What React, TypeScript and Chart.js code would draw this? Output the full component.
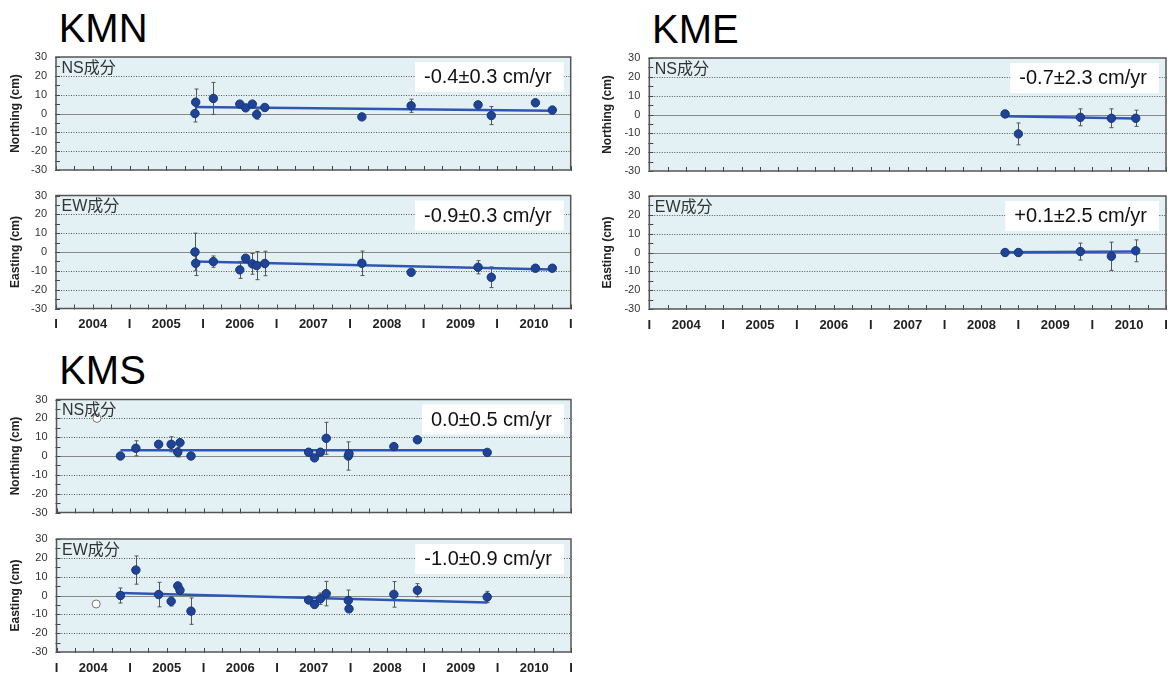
import React, { useEffect, useRef } from "react";
import { Chart, registerables } from "chart.js";
Chart.register(...registerables);

const FONT = "'Liberation Sans', Arial, Helvetica, 'Noto Sans CJK JP', sans-serif";
Chart.defaults.font.family = FONT;

// ---------- data ----------
const X_MIN = 2003.5;
const X_MAX = 2010.5;
const Y_TICKS = [-30, -20, -10, 0, 10, 20, 30];

// KMN
const KMN_T = [2005.39, 2005.40, 2005.64, 2006.0, 2006.08, 2006.17, 2006.23, 2006.34, 2007.66, 2008.33, 2009.24, 2009.42, 2010.02, 2010.25];
const KMN_NS = [0, 6, 8, 5, 3, 5, -0.5, 3.2, -1.8, 4.1, 4.6, -1.1, 5.7, 1.8];
const KMN_NS_ERR = [4.5, 7, 8.5, 0, 0, 0, 2.5, 0, 0, 3.5, 0, 4.8, 0, 2];
const KMN_EW = [0, -6, -5.1, -9.5, -3.3, -6.3, -7.2, -6.1, -6, -10.8, -8.1, -13.4, -8.6, -8.6];
const KMN_EW_ERR = [10, 6.5, 3, 4.5, 0, 5.5, 7.5, 6.5, 6.5, 0, 3.5, 5.5, 0, 0];
const KMN_NS_TREND = [3.4, 1.5];
const KMN_EW_TREND = [-5, -9.3];

// KME
const KME_T = [2008.32, 2008.50, 2009.34, 2009.76, 2010.09];
const KME_NS = [0.3, -10.3, -1.5, -2.0, -2.0];
const KME_NS_ERR = [1, 5.8, 4.5, 5, 4.3];
const KME_EW = [0, 0, 0.5, -2, 0.9];
const KME_EW_ERR = [0, 0, 4.5, 7.5, 5.8];
const KME_NS_TREND = [-0.9, -2.1];
const KME_EW_TREND = [0.1, 0.5];

// KMS
const KMS_T = [2004.37, 2004.58, 2004.89, 2005.06, 2005.15, 2005.18, 2005.33, 2006.93, 2007.01, 2007.09, 2007.17, 2007.47, 2007.48, 2008.09, 2008.41, 2009.36];
const KMS_NS = [0, 4.1, 6.2, 6.2, 2.0, 7.1, 0, 2, -1, 2, 9.4, 0, 1.2, 5, 8.6, 1.9];
const KMS_NS_ERR = [0, 4, 0, 4, 2.5, 0, 0, 0, 0, 1.8, 8.5, 7.5, 0, 0, 0, 1.5];
const KMS_EW = [0, 13.5, 0.5, -3.1, 5.1, 2.8, -8.3, -2.4, -4.7, -1.7, 1.0, -2.6, -7.1, 0.6, 2.8, -0.8];
const KMS_EW_ERR = [4, 7.5, 6.5, 2.5, 0, 1.5, 7, 1.5, 2, 3, 6.5, 5.5, 0, 6.8, 3.5, 3];
const KMS_NS_TREND = [3.0, 3.0];
const KMS_EW_TREND = [1.3, -3.7];
const KMS_OUT_T = [2004.05, 2004.04];
const KMS_OUT_NS = [20];
const KMS_OUT_EW = [-4.5];

// ---------- styles ----------
const BG = "#e3f1f4";
const POINT = "#1f4396";
const POINT_EDGE = "#183578";
const LINE = "#2f56b4";
const ERR = "#555";

type PanelCfg = {
  sx: number; left: number; right: number; top: number; bottom: number;
  yTitle: string; label: string; rate: string;
  t: number[]; v: number[]; e: number[]; trend: number[];
  outT?: number[]; outV?: number[];
  xAxis: boolean;
};

function makeDeco(cfg: PanelCfg) {
  return {
    id: "deco",
    beforeDatasetsDraw(chart: any) {
      const { ctx, chartArea: a, scales } = chart;
      const xs = scales.x, ys = scales.y;
      ctx.save();
      ctx.fillStyle = BG;
      ctx.fillRect(a.left, a.top, a.right - a.left, a.bottom - a.top);
      for (const g of Y_TICKS) {
        if (g === 30 || g === -30) continue;
        const y = Math.round(ys.getPixelForValue(g)) + 0.5;
        ctx.beginPath();
        if (g === 0) {
          ctx.setLineDash([]);
          ctx.strokeStyle = "#888";
          ctx.lineWidth = 1.2;
        } else {
          ctx.setLineDash([1, 1.5]);
          ctx.strokeStyle = "#555";
          ctx.lineWidth = 1;
        }
        ctx.moveTo(a.left, y);
        ctx.lineTo(a.right, y);
        ctx.stroke();
      }
      ctx.setLineDash([]);
      ctx.strokeStyle = ERR;
      ctx.lineWidth = 1;
      cfg.t.forEach((t, i) => {
        const e = cfg.e[i];
        if (!e) return;
        const x = Math.round(xs.getPixelForValue(t)) + 0.5;
        const y1 = ys.getPixelForValue(cfg.v[i] + e);
        const y2 = ys.getPixelForValue(cfg.v[i] - e);
        ctx.beginPath();
        ctx.moveTo(x, y1); ctx.lineTo(x, y2);
        ctx.moveTo(x - 2, y1); ctx.lineTo(x + 2, y1);
        ctx.moveTo(x - 2, y2); ctx.lineTo(x + 2, y2);
        ctx.stroke();
      });
      ctx.restore();
    },
    afterDatasetsDraw(chart: any) {
      const { ctx, chartArea: a, scales } = chart;
      const xs = scales.x, ys = scales.y;
      ctx.save();
      ctx.strokeStyle = "#444";
      ctx.lineWidth = 1;
      ctx.beginPath();
      for (let q = 0; q <= 28; q++) {
        const x = Math.round(xs.getPixelForValue(X_MIN + q * 0.25)) + 0.5;
        ctx.moveTo(x, a.bottom - 4);
        ctx.lineTo(x, a.bottom + 1);
      }
      for (let k = 0; k <= 12; k++) {
        const y = Math.round(ys.getPixelForValue(-30 + k * 5)) + 0.5;
        ctx.moveTo(a.left - 1, y);
        ctx.lineTo(a.left + 4, y);
      }
      ctx.stroke();
      ctx.strokeStyle = "#555";
      ctx.lineWidth = 1.5;
      ctx.strokeRect(a.left, a.top, a.right - a.left, a.bottom - a.top);
      ctx.fillStyle = "#333";
      ctx.font = `16px ${FONT}`;
      ctx.textBaseline = "alphabetic";
      ctx.textAlign = "left";
      ctx.fillText(cfg.label, a.left + 5.5, a.top + 15.5);
      ctx.font = `20px ${FONT}`;
      const tw = ctx.measureText(cfg.rate).width;
      const bw = tw + 21;
      const bx = a.right - 7 - bw;
      const by = a.top + 5;
      ctx.fillStyle = "#fff";
      ctx.fillRect(bx, by, bw, 30);
      ctx.fillStyle = "#111";
      ctx.textBaseline = "middle";
      ctx.fillText(cfg.rate, bx + 9, by + 15.5);
      ctx.restore();
    },
  };
}

function Panel({ cfg }: { cfg: PanelCfg }) {
  const ref = useRef<HTMLCanvasElement>(null);
  const MARGIN = 20;
  const cTop = Math.floor(cfg.top) - MARGIN;
  const cLeft = cfg.sx;
  const w = Math.ceil(cfg.right) + 16 - cLeft;
  const areaH = cfg.bottom - cfg.top;
  const padTop = cfg.top - cTop;
  const xH = 30;
  const h = cfg.xAxis ? Math.ceil(padTop + areaH + xH) : Math.ceil(padTop + areaH + MARGIN);
  const padLeft = 8.8;
  const padRight = w - (cfg.right - cLeft);
  const padBottom = cfg.xAxis ? h - (padTop + areaH) - xH : h - (padTop + areaH);

  useEffect(() => {
    const c = ref.current!;
    const datasets: any[] = [
      {
        data: cfg.t.map((x, i) => ({ x, y: cfg.v[i] })),
        pointRadius: 4.2,
        pointBackgroundColor: POINT,
        pointBorderColor: POINT_EDGE,
        pointBorderWidth: 1,
        showLine: false,
        order: 0,
      },
      {
        data: [
          { x: cfg.t[0], y: cfg.trend[0] },
          { x: cfg.t[cfg.t.length - 1], y: cfg.trend[1] },
        ],
        showLine: true,
        borderColor: LINE,
        borderWidth: 2.5,
        pointRadius: 0,
        order: 1,
      },
    ];
    if (cfg.outT && cfg.outV) {
      datasets.push({
        data: cfg.outV.map((y, i) => ({ x: cfg.outT![i], y })),
        pointRadius: 4,
        pointBackgroundColor: "#fff",
        pointBorderColor: "#777",
        pointBorderWidth: 1,
        showLine: false,
        order: 0,
      });
    }
    const chart = new Chart(c, {
      type: "scatter",
      data: { datasets },
      options: {
        animation: false,
        responsive: false,
        events: [],
        devicePixelRatio: 1,
        layout: { padding: { left: padLeft, top: padTop, right: padRight, bottom: padBottom } },
        plugins: { legend: { display: false }, tooltip: { enabled: false } },
        scales: {
          x: {
            type: "linear",
            display: cfg.xAxis,
            min: X_MIN,
            max: X_MAX,
            grid: { display: false, drawTicks: false },
            border: { display: false },
            ticks: {
              stepSize: 0.5,
              autoSkip: false,
              maxRotation: 0,
              padding: 8.5,
              color: "#222",
              font: { size: 13, weight: "bold", family: FONT },
              callback: (v: any) => (Math.abs(v - Math.round(v)) < 1e-6 ? String(Math.round(v)) : "I"),
            },
            afterFit: (s: any) => { if (cfg.xAxis) s.height = xH; },
          },
          y: {
            type: "linear",
            min: -30,
            max: 30,
            grid: { display: false, drawTicks: false },
            border: { display: false },
            ticks: {
              stepSize: 10,
              padding: 9,
              color: "#333",
              font: { size: 11, family: FONT },
            },
            title: {
              display: true,
              text: cfg.yTitle,
              color: "#222",
              font: { size: 12, weight: "bold", family: FONT },
              padding: { top: 0, bottom: 0 },
            },
            afterFit: (s: any) => { s.width = cfg.left - cLeft - padLeft; },
          },
        },
      } as any,
      plugins: [makeDeco(cfg)],
    });
    return () => chart.destroy();
  }, []);

  return (
    <canvas
      ref={ref}
      width={w}
      height={h}
      style={{ position: "absolute", left: cLeft, top: cTop, width: w, height: h }}
    />
  );
}

const PANELS: PanelCfg[] = [
  { sx: 0, left: 56, right: 570.7, top: 57, bottom: 170, yTitle: "Northing (cm)", label: "NS成分", rate: "-0.4±0.3 cm/yr", t: KMN_T, v: KMN_NS, e: KMN_NS_ERR, trend: KMN_NS_TREND, xAxis: false },
  { sx: 0, left: 56, right: 570.7, top: 195.5, bottom: 308.5, yTitle: "Easting (cm)", label: "EW成分", rate: "-0.9±0.3 cm/yr", t: KMN_T, v: KMN_EW, e: KMN_EW_ERR, trend: KMN_EW_TREND, xAxis: true },
  { sx: 592, left: 649.3, right: 1166, top: 58, bottom: 171, yTitle: "Northing (cm)", label: "NS成分", rate: "-0.7±2.3 cm/yr", t: KME_T, v: KME_NS, e: KME_NS_ERR, trend: KME_NS_TREND, xAxis: false },
  { sx: 592, left: 649.3, right: 1166, top: 196, bottom: 309, yTitle: "Easting (cm)", label: "EW成分", rate: "+0.1±2.5 cm/yr", t: KME_T, v: KME_EW, e: KME_EW_ERR, trend: KME_EW_TREND, xAxis: true },
  { sx: 0, left: 56.5, right: 571, top: 399.5, bottom: 512.5, yTitle: "Northing (cm)", label: "NS成分", rate: "0.0±0.5 cm/yr", t: KMS_T, v: KMS_NS, e: KMS_NS_ERR, trend: KMS_NS_TREND, outT: [KMS_OUT_T[0]], outV: KMS_OUT_NS, xAxis: false },
  { sx: 0, left: 56.5, right: 571, top: 539, bottom: 652, yTitle: "Easting (cm)", label: "EW成分", rate: "-1.0±0.9 cm/yr", t: KMS_T, v: KMS_EW, e: KMS_EW_ERR, trend: KMS_EW_TREND, outT: [KMS_OUT_T[1]], outV: KMS_OUT_EW, xAxis: true },
];

const TITLES = [
  { text: "KMN", left: 58.7, baseline: 41.7 },
  { text: "KME", left: 652, baseline: 42.7 },
  { text: "KMS", left: 59.2, baseline: 384.2 },
];

export default function App() {
  return (
    <div style={{ position: "absolute", left: 0, top: 0, width: 1168, height: 674, overflow: "hidden", background: "#fff" }}>
      {TITLES.map((t) => (
        <div
          key={t.text}
          style={{
            position: "absolute",
            left: t.left,
            top: t.baseline - 33.86,
            font: `40px ${FONT}`,
            lineHeight: "40px",
            color: "#000",
            whiteSpace: "nowrap",
          }}
        >
          {t.text}
        </div>
      ))}
      {PANELS.map((p, i) => (
        <Panel key={i} cfg={p} />
      ))}
    </div>
  );
}
